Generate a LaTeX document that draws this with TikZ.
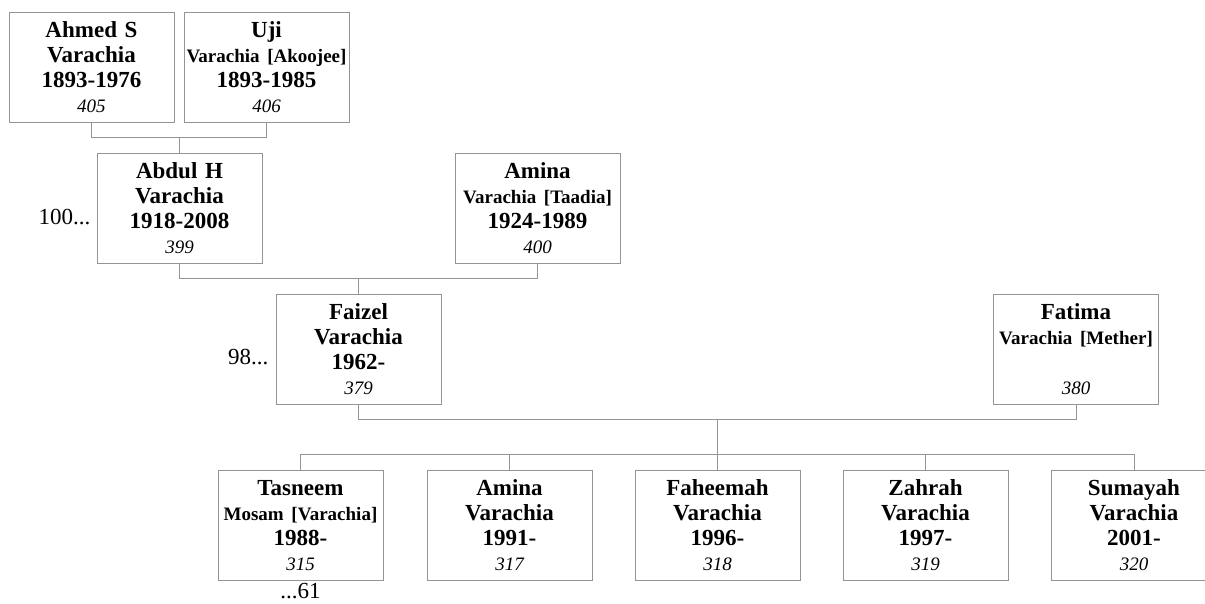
\documentclass[tikz,border=0pt]{standalone}
\usepackage{fontspec}
\setmainfont{Liberation Serif}
\usetikzlibrary{positioning}

\tikzset{
  person/.style={draw=black!42, line width=1pt, fill=white, minimum height=110pt,
    text width=161pt, inner xsep=2pt, inner ysep=2pt, align=center,
    font=\bfseries\fontsize{23}{25}\selectfont},
  link/.style={draw=black!42, line width=1pt},
  more/.style={font=\fontsize{23}{25}\selectfont, inner sep=1pt}
}
\newcommand{\sname}[1]{{\fontsize{19}{25}\selectfont #1}}
\newcommand{\pid}[1]{{\normalfont\itshape\fontsize{19}{25}\selectfont #1}}

\begin{document}
\begin{tikzpicture}[x=1pt, y=-1pt]
    \useasboundingbox (0,0) rectangle (1205,603);
    \clip (0,0) rectangle (1205,603);

    % Draw nodes
    \node[person] (ahmed) at (91.5,67) {Ahmed S\\Varachia\\1893-1976\\\pid{405}};
    \node[person] (uji) at (266.5,67) {Uji\\\sname{Varachia [Akoojee]}\\1893-1985\\\pid{406}};
    \node[person] (abdul) at (179.5,208) {Abdul H\\Varachia\\1918-2008\\\pid{399}};
    \node[person] (aminat) at (537.5,208) {Amina\\\sname{Varachia [Taadia]}\\1924-1989\\\pid{400}};
    \node[person] (faizel) at (358.5,349.5) {Faizel\\Varachia\\1962-\\\pid{379}};
    \node[person] (fatima) at (1076,349.5) {Fatima\\\sname{Varachia [Mether]}\\~\\\pid{380}};
    \node[person] (tasneem) at (300.5,525.5) {Tasneem\\\sname{Mosam [Varachia]}\\1988-\\\pid{315}};
    \node[person] (aminav) at (509.5,525.5) {Amina\\Varachia\\1991-\\\pid{317}};
    \node[person] (faheemah) at (717.5,525.5) {Faheemah\\Varachia\\1996-\\\pid{318}};
    \node[person] (zahrah) at (925.5,525.5) {Zahrah\\Varachia\\1997-\\\pid{319}};
    \node[person] (sumayah) at (1134,525.5) {Sumayah\\Varachia\\2001-\\\pid{320}};

    % Draw connections
    \coordinate (bar1) at (0,137);
    \coordinate (bar2) at (0,278);
    \coordinate (bar3) at (0,419);
    \coordinate (bar4) at (0,454);
    \draw[link] (ahmed.south) |- (bar1 -| uji.south) -- (uji.south);
    \draw[link] (abdul.north) -- (abdul.north |- bar1);
    \draw[link] (abdul.south) |- (bar2 -| aminat.south) -- (aminat.south);
    \draw[link] (faizel.north) -- (faizel.north |- bar2);
    \draw[link] (faizel.south) |- (bar3 -| fatima.south) -- (fatima.south);
    \draw[link] (faheemah.north) -- (faheemah.north |- bar3);
    \draw[link] (tasneem.north) |- (bar4 -| sumayah.north) -- (sumayah.north);
    \foreach \kid in {aminav, zahrah}
        \draw[link] (\kid.north) -- (\kid.north |- bar4);

    % Labels
    \node[more, left=5pt of abdul, yshift=-9pt] (morea) {100...};
    \node[more, left=6pt of faizel, yshift=-8pt] (moreb) {98...};
    \node[more, below=1pt of tasneem] (morec) {...61};
\end{tikzpicture}
\end{document}
